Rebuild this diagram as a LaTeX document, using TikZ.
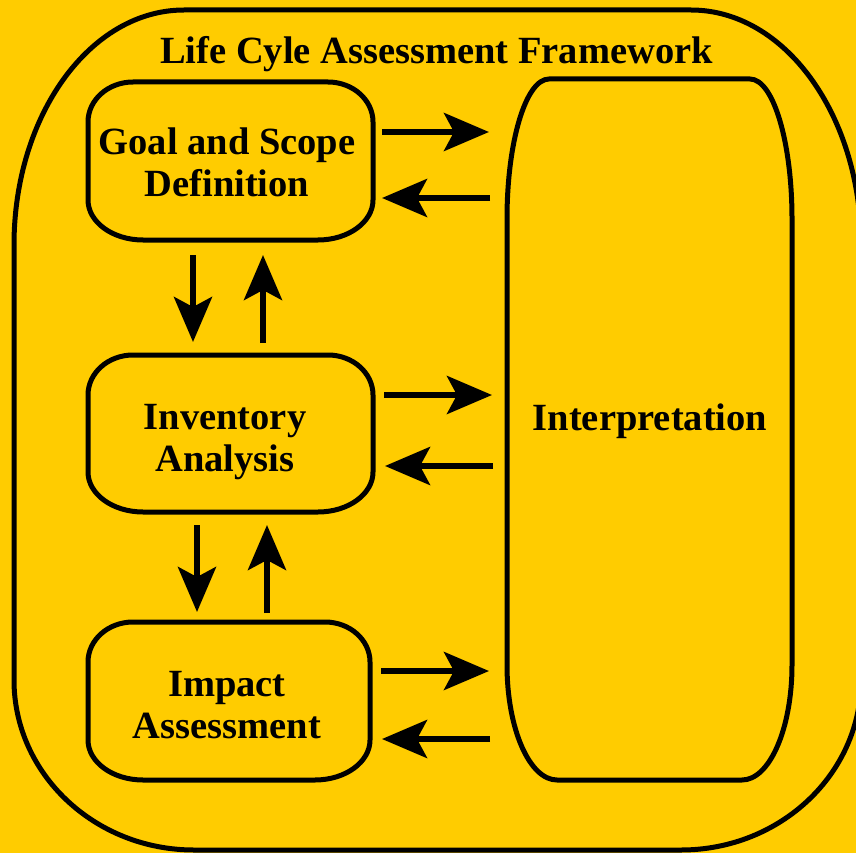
\documentclass[tikz,border=0pt]{standalone}
\usepackage{fontspec}
\setmainfont{Liberation Serif}
\usetikzlibrary{arrows.meta}
\definecolor{bgyellow}{HTML}{FFCC00}
\tikzset{
  boxline/.style={draw=black, line width=5pt, line join=round},
  lbl/.style={font=\fontsize{38.5}{42}\selectfont\bfseries, inner sep=0pt, align=center},
  arr/.style={draw=black, line width=6pt, -{Stealth[length=45pt, width=38pt, inset=10pt]}}
}
% x1 y1 x2 y2 rx-top ry-top rx-bottom ry-bottom (image coordinates, y downwards)
\newcommand\myebox[8]{%
  \path[boxline] ({#1+#5},#2) -- ({#3-#5},#2)
    .. controls ({#3-0.448*#5},#2) and (#3,{#2+0.448*#6}) .. (#3,{#2+#6})
    -- (#3,{#4-#8})
    .. controls (#3,{#4-0.448*#8}) and ({#3-0.448*#7},#4) .. ({#3-#7},#4)
    -- ({#1+#7},#4)
    .. controls ({#1+0.448*#7},#4) and (#1,{#4-0.448*#8}) .. (#1,{#4-#8})
    -- (#1,{#2+#6})
    .. controls (#1,{#2+0.448*#6}) and ({#1+0.448*#5},#2) .. cycle;}
\begin{document}
\begin{tikzpicture}[x=1pt, y=-1pt]
  \fill[bgyellow] (0,0) rectangle (856,853);
  \useasboundingbox (0,0) rectangle (856,853);
  \clip (0,0) rectangle (856,853);
  % outer frame
  \myebox{14}{10}{861}{850}{170}{235}{180}{170}
  % boxes
  \myebox{88}{82}{373}{240}{45}{40}{55}{40}
  \myebox{88}{355}{373}{512}{45}{40}{55}{40}
  \myebox{88}{622}{370}{780}{45}{40}{55}{40}
  \myebox{507}{79}{792}{780}{42}{140}{50}{115}
  % texts
  \node[lbl] (title) at (436.5,54) {Life Cyle Assessment Framework};
  \node[lbl] (goal) at (227,162) {Goal and Scope\\Definition};
  \node[lbl] (inv) at (225,442) {Inventory\\Analysis};
  \node[lbl] (imp) at (227,705.5) {Impact\\Assessment};
  \node[lbl] (interp) at (650,421.5) {Interpretation};
  % arrow end points
  \coordinate (a1s) at (382,132); \coordinate (a1e) at (489,132);
  \coordinate (a2s) at (490,198); \coordinate (a2e) at (382,198);
  \coordinate (a3s) at (384,395); \coordinate (a3e) at (492,395);
  \coordinate (a4s) at (493,466); \coordinate (a4e) at (385,466);
  \coordinate (a5s) at (381,671); \coordinate (a5e) at (489,671);
  \coordinate (a6s) at (490,739); \coordinate (a6e) at (382,739);
  \coordinate (v1s) at (193,255); \coordinate (v1e) at (193,342);
  \coordinate (v2s) at (263,343); \coordinate (v2e) at (263,255);
  \coordinate (v3s) at (197,525); \coordinate (v3e) at (197,612);
  \coordinate (v4s) at (267,613); \coordinate (v4e) at (267,525);
  % arrows
  \draw[arr] (a1s) -- (a1e);
  \draw[arr] (a2s) -- (a2e);
  \draw[arr] (a3s) -- (a3e);
  \draw[arr] (a4s) -- (a4e);
  \draw[arr] (a5s) -- (a5e);
  \draw[arr] (a6s) -- (a6e);
  \draw[arr] (v1s) -- (v1e);
  \draw[arr] (v2s) -- (v2e);
  \draw[arr] (v3s) -- (v3e);
  \draw[arr] (v4s) -- (v4e);
\end{tikzpicture}
\end{document}
